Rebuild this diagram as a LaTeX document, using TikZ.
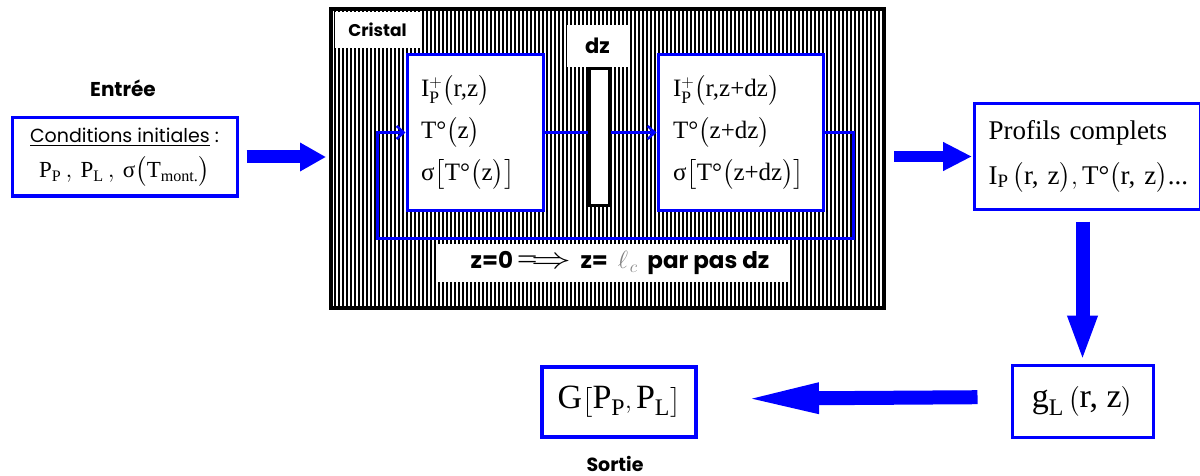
\documentclass[tikz,border=0pt]{standalone}
\usepackage{amsmath}
\usepackage{fontspec}
\setmainfont{Liberation Serif}
\newfontfamily\gothic{Poppins}
\usetikzlibrary{arrows.meta}
\definecolor{bblue}{RGB}{0,0,255}
\newcommand\tx[1]{\text{#1}}
\newcommand\fs[2]{\fontsize{#1}{#2}\selectfont}
\tikzset{
  bluebox/.style={draw=bblue, line width=3pt, fill=white, inner sep=0pt},
  gothlab/.style={inner sep=0pt, font=\gothic\bfseries\fs{19}{22}},
  whitelab/.style={fill=white, inner sep=0pt},
  fat/.style={draw=bblue, line width=#1},
  thinarrow/.style={draw=bblue, line width=3pt, -{Straight Barb[length=7pt,width=13pt,line width=2.5pt]}},
}
\begin{document}
\begin{tikzpicture}[x=1pt,y=-1pt]
\useasboundingbox[fill=white] (0,0) rectangle (1200,476);

% hatching of the crystal
\foreach \x in {335,339,...,881} \draw[line width=1.05pt] (\x,11) -- (\x,306);

% white label areas
\node[whitelab, minimum width=85, minimum height=36, font=\gothic\bfseries\fs{17}{20}] (cristallab) at (377.5,30) {Cristal};
\node[whitelab, minimum width=61, minimum height=42, font=\gothic\bfseries\fs{21}{24}] (dzlab) at (597.5,46) {dz};
\node[whitelab, minimum width=352, minimum height=38, font=\gothic\bfseries\fs{23}{26}] (zlab) at (614,263)
  {\hspace*{12pt}z=0\,\scalebox{1.6}[1.2]{$\Longrightarrow$}\ \ z=\ \ \textcolor{gray}{\fs{27}{27}$\ell_{\mkern2mu c}$}\ \ par pas dz};

% inner boxes
\node[bluebox, text width=108pt, minimum height=155, inner xsep=14pt, align=left, font=\fs{25}{42}] (b1) at (475,132.5)
  {$\tx{I}^{+}_{\tx{P}}\bigl(\tx{r,z}\bigr)$\\
   $\tx{T°}\bigl(\tx{z}\bigr)$\\
   $\tx{σ}\bigl[\tx{T°}\bigl(\tx{z}\bigr)\bigr]$};
\node[bluebox, text width=135pt, minimum height=155, inner xsep=15pt, align=left, font=\fs{25}{42}] (b2) at (740.5,132.5)
  {$\tx{I}^{+}_{\tx{P}}\bigl(\tx{r,z+dz}\bigr)$\\
   $\tx{T°}\bigl(\tx{z+dz}\bigr)$\\
   $\tx{σ}\bigl[\tx{T°}\bigl(\tx{z+dz}\bigr)\bigr]$};

% loop
\coordinate (cR) at (853,238);
\coordinate (cL) at (377,238);
\draw[thinarrow] (b2.east) -| (cR) -- (cL) |- (b1.west);
\draw[thinarrow] (b1.east) -- (b2.west);

% dz slice
\node[draw, line width=3pt, fill=white, minimum width=20, minimum height=136, inner sep=0pt] (dz) at (599,137) {};

% crystal border
\node[draw, line width=4pt, minimum width=553, minimum height=299, inner sep=0pt] (cristal) at (607.5,158.5) {};

% outer elements
\node[gothlab, font=\gothic\bfseries\fs{20}{24}] (entree) at (123,88) {Entrée};
\node[bluebox, minimum width=225, minimum height=78, align=center, font=\fs{23}{35}] (init) at (124.5,157)
  {{\gothic\fs{19}{35}\underline{Conditions initiales} :}\\
   $\tx{P}_{\tx{P}}\,,\,\tx{P}_{\tx{L}}\,,\,\tx{σ}\bigl(\tx{T}_{\tx{mont.}}\bigr)$};

\node[bluebox, minimum width=219, minimum height=105, text width=198pt, inner xsep=14pt, align=left, font=\fs{27}{45}] (profils) at (1087.5,156.5)
  {Profils complets\\
   $\tx{I}_{\tx{P}}\,\bigl(\tx{r, z}\bigr),\tx{T°}\bigl(\tx{r, z}\bigr)$...};

\node[bluebox, minimum width=141, minimum height=72, font=\fs{34}{38}] (gl) at (1082.5,401)
  {$\tx{g}_{\tx{L}}\,\bigl(\tx{r, z}\bigr)$};
\node[bluebox, line width=4pt, minimum width=154, minimum height=70, font=\fs{34}{38}] (G) at (619,402)
  {$\tx{G}\bigl[\tx{P}_{\tx{P}},\tx{P}_{\tx{L}}\bigr]$};
\node[gothlab] (sortie) at (615,464) {Sortie};

% fat arrows
\draw[fat=13pt, -{Triangle[length=26pt,width=27pt]}, shorten <=8pt, shorten >=3pt]
  (init.east) -- (init.east -| cristal.west);
\draw[fat=11pt, -{Triangle[length=29pt,width=27pt]}, shorten <=8pt, shorten >=1pt]
  (profils.west -| cristal.east) -- (profils.west);
\draw[fat=14pt, -{Triangle[length=46pt,width=27pt]}, shorten <=11pt, shorten >=2pt]
  (gl.north |- profils.south) -- (gl.north);
\draw[fat=14pt, -{Triangle[length=78pt,width=27pt]}, shorten <=33pt, shorten >=43pt]
  ([yshift=4pt]gl.west) -- ([yshift=3pt]G.east);
\end{tikzpicture}
\end{document}
